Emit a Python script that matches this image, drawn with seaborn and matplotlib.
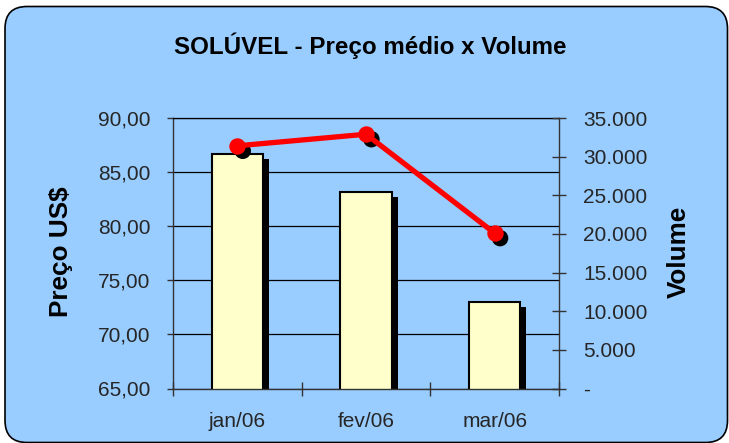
import matplotlib
matplotlib.use("Agg")
import matplotlib.pyplot as plt
import matplotlib.patheffects as pe
from matplotlib.patches import FancyBboxPatch
from matplotlib.ticker import FuncFormatter
import seaborn as sns

# data
months = ["jan/06", "fev/06", "mar/06"]
preco = [86.65, 83.2, 72.95]          # bars, left axis
volume = [31400, 32900, 20100]        # line, right axis

left_ticks = [65, 70, 75, 80, 85, 90]
right_ticks = [0, 5000, 10000, 15000, 20000, 25000, 30000, 35000]
title = "SOLÚVEL - Preço médio x Volume"

BG = "#99CCFF"
W, H = 729, 443

sns.set_style("white")
plt.rcParams["font.family"] = ["Liberation Sans", "DejaVu Sans"]
plt.rcParams["text.color"] = "black"

fig = plt.figure(figsize=(W / 100, H / 100), dpi=100, facecolor="white")

# rounded light blue frame
frame = FancyBboxPatch((0.05, 0.005), 7.225, 4.36,
                       boxstyle="round,pad=0,rounding_size=0.22",
                       transform=fig.dpi_scale_trans,
                       facecolor=BG, edgecolor="black", linewidth=1.2, zorder=-10)
fig.patches.append(frame)

ax = fig.add_axes([173 / W, 1 - 388.5 / H, (559 - 173) / W, (388.5 - 118) / H])
ax.set_facecolor("none")

# bars with a solid black drop shadow
sns.barplot(x=months, y=preco, ax=ax, color="#FFFFCC", saturation=1,
            edgecolor="black", linewidth=1.5, width=0.4)
for bar in ax.patches:
    bar.set_path_effects([pe.SimplePatchShadow(offset=(4.3, -3.6), shadow_rgbFace="black", alpha=1),
                          pe.Normal()])

ax.set_ylim(65, 90)
ax.set_yticks(left_ticks)
ax.yaxis.set_major_formatter(FuncFormatter(lambda v, p: f"{v:.2f}".replace(".", ",")))
ax.grid(axis="y", color="black", linewidth=0.9)
ax.grid(axis="x", visible=False)
ax.set_axisbelow(True)
ax.set_xlabel("")
ax.set_ylabel("")
ax.tick_params(axis="y", direction="out", length=4.3, width=1, pad=12,
               labelsize=15, color="#333333", left=True)
ax.tick_params(axis="x", which="major", length=0, pad=17, labelsize=15)
ax.set_xticks([-0.5, 0.5, 1.5, 2.5], minor=True)
ax.tick_params(axis="x", which="minor", direction="inout", length=9.4, width=1,
               color="#333333", bottom=True)
for side in ["left", "bottom"]:
    ax.spines[side].set_color("#333333")
    ax.spines[side].set_linewidth(1)
ax.spines["top"].set_color("black")
ax.spines["top"].set_linewidth(0.9)
ax.spines["right"].set_visible(False)

# volume line on the secondary axis
ax2 = ax.twinx()
shadow = [pe.SimplePatchShadow(offset=(3.9, -3.6), shadow_rgbFace="black", alpha=1)]
sns.scatterplot(x=months, y=volume, ax=ax2, color="black", s=140, linewidth=0,
                path_effects=shadow, legend=False, zorder=1)
sns.lineplot(x=months, y=volume, ax=ax2, color="red", linewidth=3.8, sort=False,
             legend=False, zorder=2)
sns.scatterplot(x=months, y=volume, ax=ax2, color="red", s=140, linewidth=0,
                legend=False, zorder=3)

ax2.set_ylim(0, 35000)
ax2.set_yticks(right_ticks)
ax2.yaxis.set_major_formatter(FuncFormatter(
    lambda v, p: "-" if v == 0 else f"{int(v):,}".replace(",", ".")))
ax2.set_xlabel("")
ax2.set_ylabel("")
ax2.tick_params(axis="y", direction="inout", length=9.4, width=1, pad=12.7,
                labelsize=15, color="#333333", right=True)
for side in ["left", "top", "bottom"]:
    ax2.spines[side].set_visible(False)
ax2.spines["right"].set_color("#333333")
ax2.spines["right"].set_linewidth(1)
ax.set_xlim(-0.5, 2.5)

fig.text(370 / W, 1 - 54 / H, title, ha="center", va="baseline",
         fontsize=17.4, fontweight="bold")
fig.text(61 / W, 1 - 252 / H, "Preço US$", rotation=90, ha="center", va="center",
         fontsize=18.8, fontweight="bold")
fig.text(679 / W, 1 - 252 / H, "Volume", rotation=90, ha="center", va="center",
         fontsize=18.8, fontweight="bold")

fig.savefig("out.png", dpi=100)
